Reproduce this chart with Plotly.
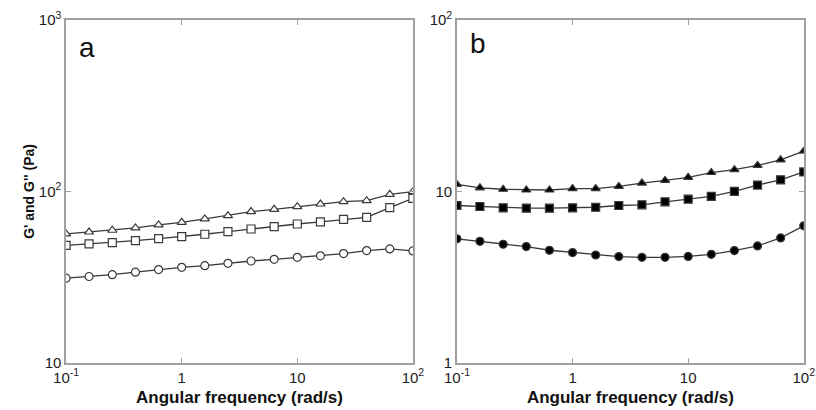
import plotly.graph_objects as go

# angular frequency (rad/s), 16 points per decade-step of 0.2
freq = [0.1, 0.158, 0.251, 0.398, 0.631, 1.0, 1.585, 2.512, 3.981, 6.31,
        10.0, 15.85, 25.12, 39.81, 63.1, 100.0]

# panel a (open symbols)
a_triangle = [56.5, 58.0, 59.4, 61.3, 63.8, 66.1, 69.2, 72.3, 76.3, 78.7,
              81.5, 84.5, 87.2, 88.4, 96.3, 99.8]
a_square = [48.5, 49.4, 50.3, 51.6, 53.0, 54.5, 56.3, 58.3, 60.4, 62.3,
            64.6, 66.4, 68.8, 70.7, 80.5, 91.2]
a_circle = [31.2, 31.9, 32.7, 33.8, 35.0, 36.1, 36.9, 38.1, 39.3, 40.2,
            41.3, 42.1, 43.4, 45.2, 46.2, 45.0]

# panel b (filled symbols)
b_triangle = [11.0, 10.5, 10.3, 10.2, 10.2, 10.4, 10.4, 10.7, 11.2, 11.6,
              12.1, 12.9, 13.4, 14.2, 15.3, 17.2]
b_square = [8.28, 8.17, 8.03, 7.99, 7.99, 8.03, 8.09, 8.28, 8.36, 8.70,
            9.02, 9.35, 10.0, 10.9, 11.7, 13.0]
b_circle = [5.29, 5.12, 4.92, 4.77, 4.54, 4.40, 4.26, 4.17, 4.13, 4.13,
            4.18, 4.30, 4.52, 4.81, 5.36, 6.30]

x_tickvals = [0.1, 1, 10, 100]
x_ticktext = ["10<sup>-1</sup>", "1", "10", "10<sup>2</sup>"]
ya_tickvals = [10, 100, 1000]
ya_ticktext = ["10", "10<sup>2</sup>", "10<sup>3</sup>"]
yb_tickvals = [1, 10, 100]
yb_ticktext = ["1", "10", "10<sup>2</sup>"]

LINE = "#3a3a3a"
FRAME = "#a0a0a0"
FONT = "Liberation Sans, Arial, sans-serif"

fig = go.Figure()


def add_series(y, symbol, fill, xaxis, yaxis, size=8):
    fig.add_trace(go.Scatter(
        x=freq, y=y, mode="lines+markers",
        xaxis=xaxis, yaxis=yaxis,
        line=dict(color=LINE, width=1.3),
        marker=dict(symbol=symbol, size=size, color=fill,
                    line=dict(color=LINE, width=1.2)),
        showlegend=False,
    ))


add_series(a_triangle, "triangle-up", "white", "x", "y")
add_series(a_square, "square", "white", "x", "y")
add_series(a_circle, "circle", "white", "x", "y")
add_series(b_triangle, "triangle-up", "black", "x2", "y2")
add_series(b_square, "square", "black", "x2", "y2")
add_series(b_circle, "circle", "black", "x2", "y2")

axis_common = dict(
    type="log", showgrid=False, zeroline=False, automargin=False,
    showline=True, linecolor=FRAME, linewidth=1.5, mirror="ticks",
    ticks="inside", ticklen=5, tickcolor=FRAME,
    tickfont=dict(family=FONT, size=15, color="#222"),
)

title_font = dict(family=FONT, size=17, color="#111")

fig.update_layout(
    width=816, height=410,
    margin=dict(l=0, r=0, t=0, b=0),
    paper_bgcolor="white", plot_bgcolor="white",
    xaxis=dict(axis_common, domain=[0.081, 0.506], range=[-1, 2],
               tickvals=x_tickvals, ticktext=x_ticktext, anchor="y",
               title=dict(text="<b>Angular frequency (rad/s)</b>",
                          font=title_font, standoff=7)),
    yaxis=dict(axis_common, domain=[0.115, 0.951], range=[1, 3],
               tickvals=ya_tickvals, ticktext=ya_ticktext, anchor="x",
               title=dict(text="<b>G' and G'' (Pa)</b>",
                          font=dict(family=FONT, size=14, color="#111"),
                          standoff=1)),
    xaxis2=dict(axis_common, domain=[0.560, 0.985], range=[-1, 2],
                tickvals=x_tickvals, ticktext=x_ticktext, anchor="y2",
                title=dict(text="<b>Angular frequency (rad/s)</b>",
                           font=title_font, standoff=7)),
    yaxis2=dict(axis_common, domain=[0.115, 0.951], range=[0, 2],
                tickvals=yb_tickvals, ticktext=yb_ticktext, anchor="x2"),
    annotations=[
        dict(text="a", x=0.1066, y=0.885, xref="paper", yref="paper",
             xanchor="center", yanchor="middle", showarrow=False,
             font=dict(family=FONT, size=28, color="#111")),
        dict(text="b", x=0.586, y=0.893, xref="paper", yref="paper",
             xanchor="center", yanchor="middle", showarrow=False,
             font=dict(family=FONT, size=28, color="#111")),
    ],
)

# page body has a default 8px margin; drop it so the figure sits at the origin
fig.write_html("out.html", config={"displayModeBar": False},
               post_script="document.body.style.margin='0';")
